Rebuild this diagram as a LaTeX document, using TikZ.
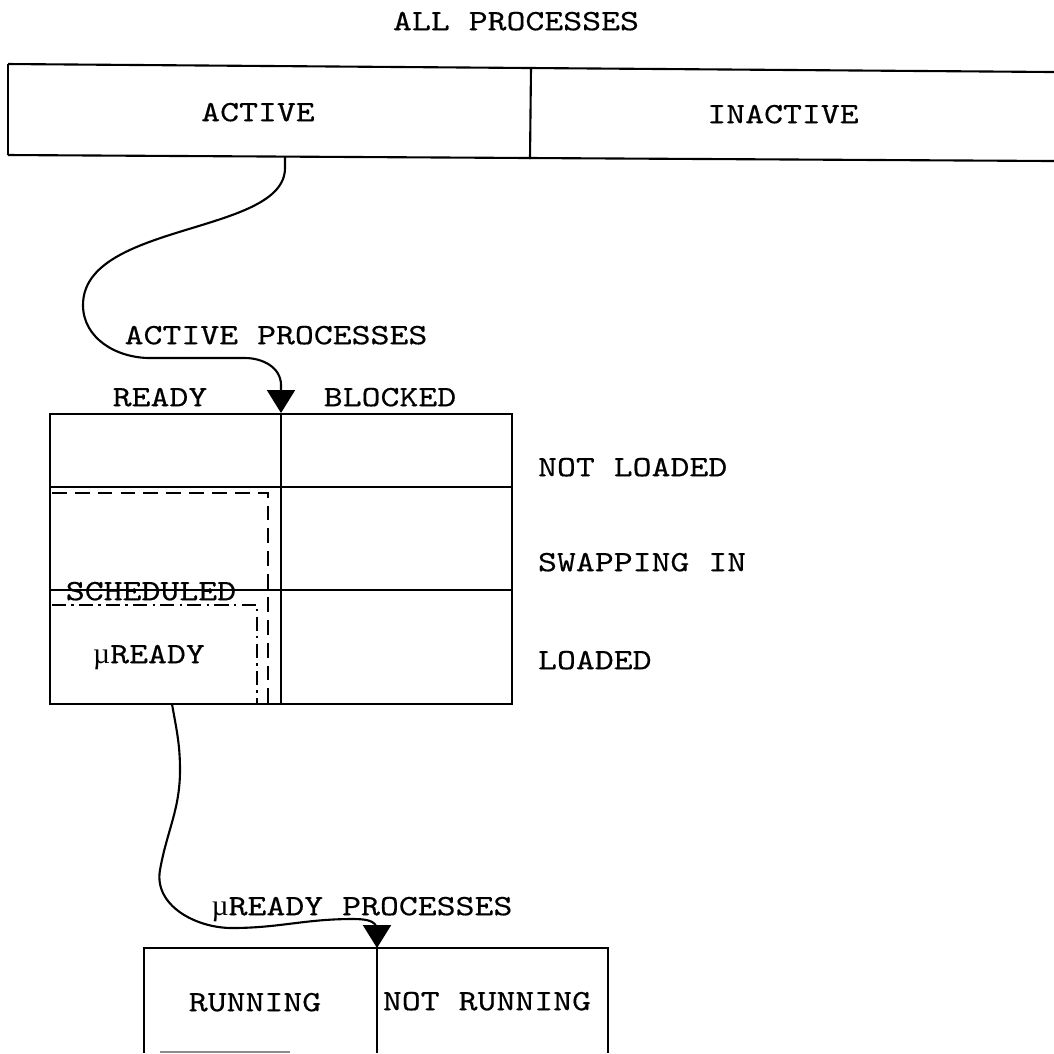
\documentclass[tikz,border=0pt]{standalone}
\usepackage{fontspec}
\newfontfamily\typefont[FakeStretch=1.22,FakeBold=0.4]{lmmono10-regular.otf}
\newfontfamily\mufont{Liberation Serif}
\usepackage{tikz}
\usetikzlibrary{arrows.meta,calc}

\begin{document}
\begin{tikzpicture}[
    x=0.01cm, y=0.01cm,
    line width=0.6pt,
    lbl/.style={
        font=\typefont\fontsize{8.4}{10}\selectfont,
        inner sep=0pt,
        text depth=0pt
    },
    rowlbl/.style={
        lbl,
        anchor=west
    },
    conn/.style={
        -{Triangle[width=2.8mm,length=2.3mm]}
    },
    sched/.style={
        dash pattern=on 4.2pt off 2.3pt
    },
    uready/.style={
        dash pattern=on 4pt off 1.5pt on 0.7pt off 1.5pt
    }
]
\useasboundingbox (0,0) rectangle (1054,-1053);

% ------------------------------------------------
% All processes
% ------------------------------------------------

\node[lbl] (allp) at (516,-21) {ALL PROCESSES};

\draw (8,-64) -- (1054,-72);
\draw (8,-155) -- (1054,-161);
\draw (8,-64) -- (8,-155);
\draw (531,-68) -- (530,-159);

\node[lbl] (active) at (258,-112) {ACTIVE};
\node[lbl] (inactive) at (783,-114) {INACTIVE};

\coordinate (activeout) at (285,-156);

% ------------------------------------------------
% Active processes
% ------------------------------------------------

\node[lbl] (actp) at (276,-335) {ACTIVE PROCESSES};
\node[lbl] (ready) at (160,-397) {READY};
\node[lbl] (blocked) at (390,-397) {BLOCKED};

\draw (50,-414) rectangle (512,-704);
\draw (281,-414) -- (281,-704);
\draw (50,-487) -- (512,-487);
\draw (50,-590) -- (512,-590);

\coordinate (readytip) at (281,-413);

% Scheduled and micro-ready regions
\draw[sched] (52,-493) -- (268,-493) -- (268,-704);
\draw[uready] (52,-605) -- (257,-605) -- (257,-704);

\node[lbl] (scheduled) at (151,-591) {SCHEDULED};
\node[lbl] (ureadycell) at (149,-654) {{\mufont µ}READY};

\node[rowlbl] (notloaded) at (537,-467) {NOT LOADED};
\node[rowlbl] (swapping) at (537,-562) {SWAPPING IN};
\node[rowlbl] (loaded) at (537,-660) {LOADED};

\coordinate (ureadyout) at (172,-704);

% ------------------------------------------------
% Micro-ready processes
% ------------------------------------------------

\node[lbl] (ureadyp) at (362,-906) {{\mufont µ}READY PROCESSES};

\draw (144,-1053) -- (144,-948) -- (608,-948) -- (608,-1053);
\draw (377,-948) -- (377,-1053);
\draw[black!45] (160,-1052) -- (290,-1052);

\node[lbl] (running) at (255,-1002) {RUNNING};
\node[lbl] (notrunning) at (487,-1001) {NOT RUNNING};

\coordinate (runtip) at (377,-948);

% ------------------------------------------------
% Connections
% ------------------------------------------------

\draw[conn]
    (activeout)
    -- (285,-168)
    .. controls (285,-235) and (83,-222) .. (83,-305)
    to[out=-90, in=180] (150,-358)
    -- (245,-358)
    to[out=0, in=90] (readytip |- 0,-385)
    -- (readytip);

\draw[conn]
    (ureadyout)
    to[out=-80, in=90] (180,-770)
    to[out=-90, in=80] (160,-870)
    to[out=-100, in=180] (232,-928)
    to[out=0, in=180] (352,-919)
    to[out=0, in=90] (runtip |- 0,-930)
    -- (runtip);

\end{tikzpicture}
\end{document}
